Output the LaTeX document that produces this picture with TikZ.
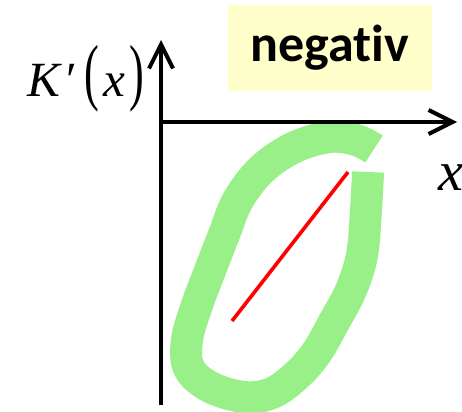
\documentclass[tikz,border=0pt]{standalone}
\usepackage{graphicx}
\usepackage{fontspec}
\setmainfont{Carlito}[Ligatures={NoCommon}]
\newfontfamily\timesfont{Liberation Serif}
\definecolor{pastelyellow}{RGB}{255,255,204}
\definecolor{markgreen}{RGB}{153,240,137}
\definecolor{linered}{RGB}{255,0,0}
\usetikzlibrary{arrows.meta,positioning}

\begin{document}
\begin{tikzpicture}[x=0.25mm,y=-0.25mm,
  axis/.style={line width=1mm,-{Straight Barb[length=6mm,width=6mm]}},
  tag/.style={fill=pastelyellow,minimum width=51mm,minimum height=21.5mm,inner sep=0pt,font=\fontsize{37}{37}\selectfont\bfseries},
  mathlabel/.style={inner sep=0pt,font=\timesfont\fontsize{35}{35}\selectfont}]
  \useasboundingbox (0,0) rectangle (462,411);
  % highlighted loop
  \draw[markgreen,line width=8mm,line cap=butt] plot[smooth,tension=0.6] coordinates {
    (368,172) (366,210) (362,255) (351,290) (334,322) (317,352) (297,375)
    (272,393) (244,397) (210,387) (189,368) (187,340) (197,305) (211,268)
    (225,232) (238,200) (262,169) (295,147) (330,137) (356,140) (374,149)};
  % axes
  \coordinate (ybot) at (161,405);
  \coordinate (ytip) at (161,40);
  \coordinate (xstart) at (159,122);
  \coordinate (xtip) at (457,122);
  \draw[axis] (ybot) -- (ytip);
  \draw[axis] (xstart) -- (xtip);
  \node[mathlabel] (ylab) at (86,79) {\textit{K}\kern3pt′\kern5pt\scalebox{0.9}[1.5]{(}\kern3pt\textit{x}\kern3pt\scalebox{0.9}[1.5]{)}};
  \node[mathlabel,font=\timesfont\fontsize{40}{40}\selectfont] (xlab) at (451,178) {\textit{x}};
  \node[tag] (neg) at (330,48) {negativ};
  % red segment
  \coordinate (r1) at (232,321);
  \coordinate (r2) at (348,172);
  \draw[linered,line width=0.9mm] (r1) -- (r2);
\end{tikzpicture}
\end{document}
